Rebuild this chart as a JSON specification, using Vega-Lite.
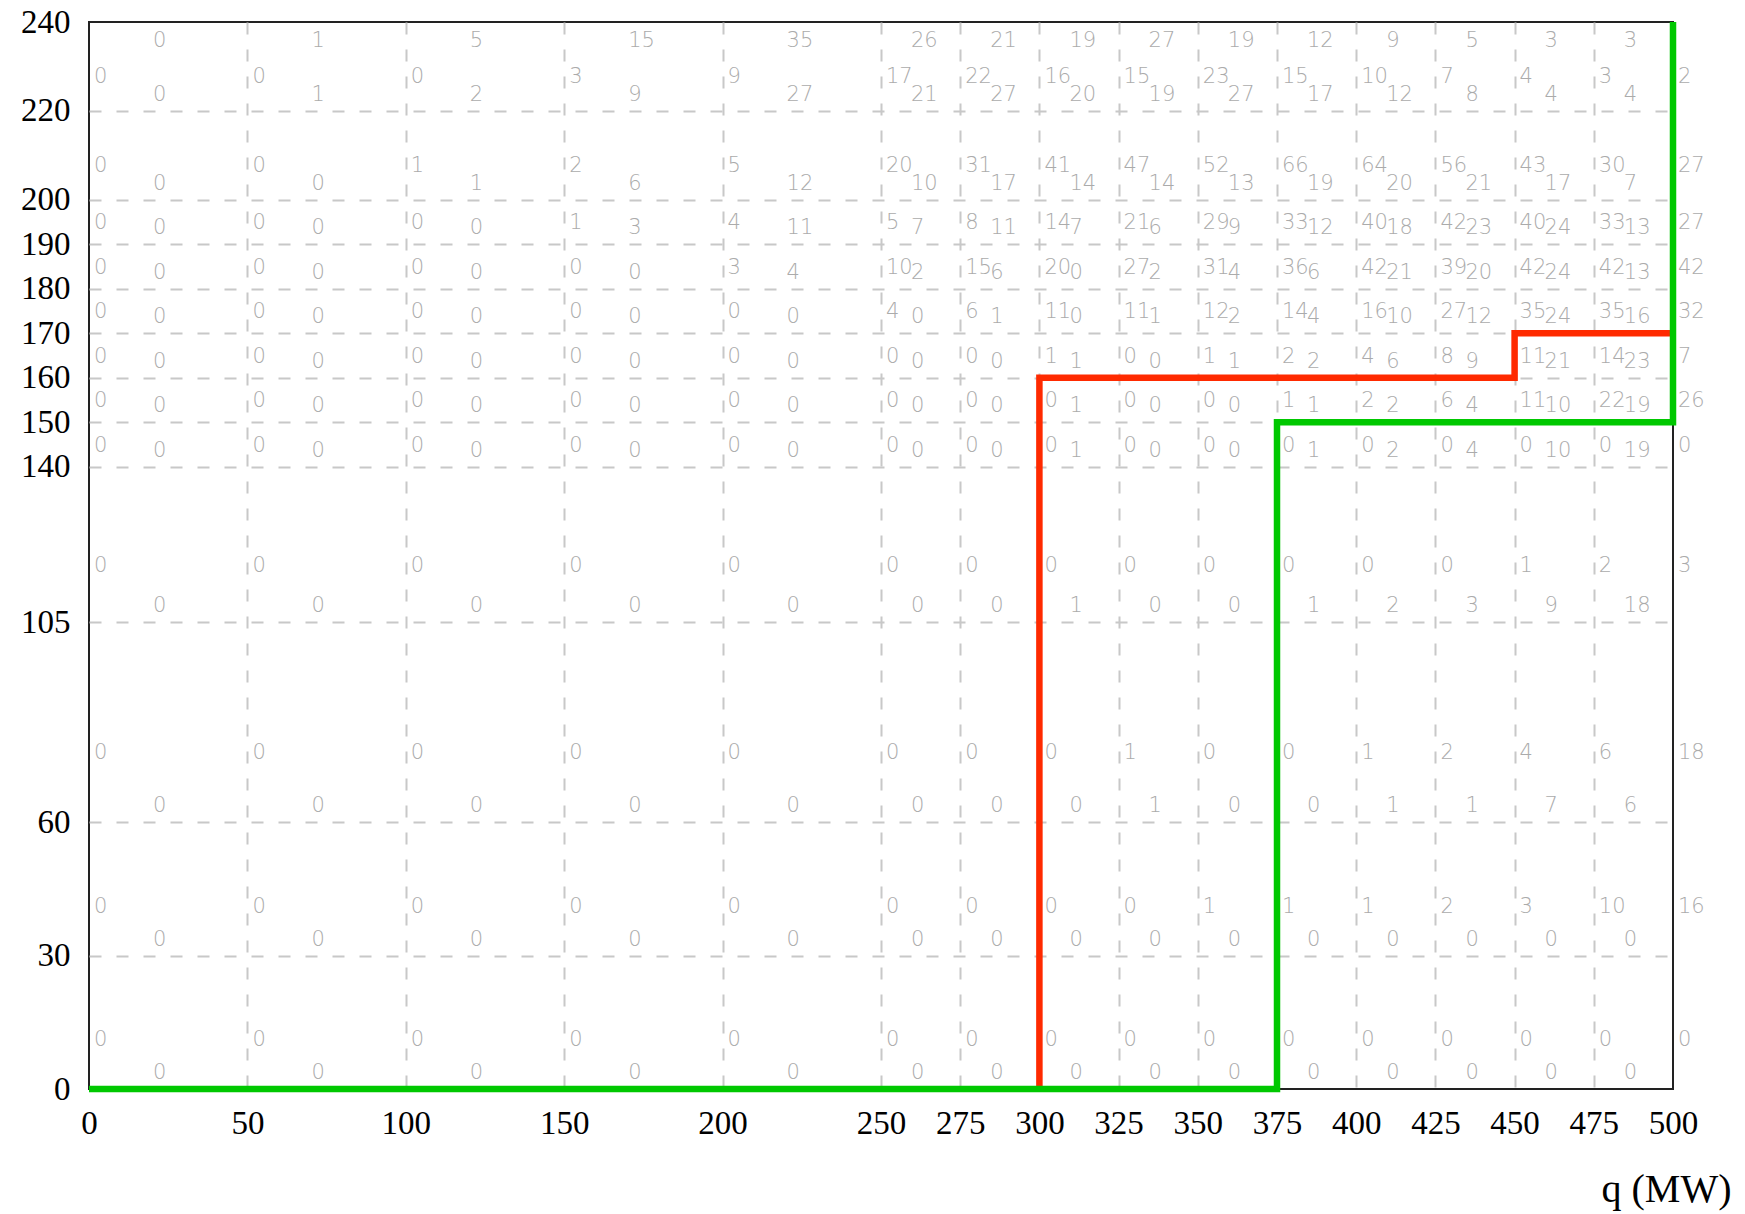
{
  "$schema": "https://vega.github.io/schema/vega-lite/v6.json",
  "width": 1584,
  "height": 1067,
  "autosize": {"type": "none"},
  "padding": {"left": 89, "top": 22, "right": 72, "bottom": 125},
  "background": "white",
  "config": {
    "view": {"stroke": "#222222", "strokeWidth": 2},
    "text": {"font": "DejaVu Sans", "fontSize": 21, "fill": "#ababab", "fontWeight": 200}
  },
  "datasets": {
    "cells": [
      {"q":0,"p":0,"a":0,"b":0},{"q":50,"p":0,"a":0,"b":0},{"q":100,"p":0,"a":0,"b":0},{"q":150,"p":0,"a":0,"b":0},{"q":200,"p":0,"a":0,"b":0},{"q":250,"p":0,"a":0,"b":0},{"q":275,"p":0,"a":0,"b":0},{"q":300,"p":0,"a":0,"b":0},{"q":325,"p":0,"a":0,"b":0},{"q":350,"p":0,"a":0,"b":0},{"q":375,"p":0,"a":0,"b":0},{"q":400,"p":0,"a":0,"b":0},{"q":425,"p":0,"a":0,"b":0},{"q":450,"p":0,"a":0,"b":0},{"q":475,"p":0,"a":0,"b":0},{"q":500,"p":0,"a":0},
      {"q":0,"p":30,"a":0,"b":0},{"q":50,"p":30,"a":0,"b":0},{"q":100,"p":30,"a":0,"b":0},{"q":150,"p":30,"a":0,"b":0},{"q":200,"p":30,"a":0,"b":0},{"q":250,"p":30,"a":0,"b":0},{"q":275,"p":30,"a":0,"b":0},{"q":300,"p":30,"a":0,"b":0},{"q":325,"p":30,"a":0,"b":0},{"q":350,"p":30,"a":1,"b":0},{"q":375,"p":30,"a":1,"b":0},{"q":400,"p":30,"a":1,"b":0},{"q":425,"p":30,"a":2,"b":0},{"q":450,"p":30,"a":3,"b":0},{"q":475,"p":30,"a":10,"b":0},{"q":500,"p":30,"a":16},
      {"q":0,"p":60,"a":0,"b":0},{"q":50,"p":60,"a":0,"b":0},{"q":100,"p":60,"a":0,"b":0},{"q":150,"p":60,"a":0,"b":0},{"q":200,"p":60,"a":0,"b":0},{"q":250,"p":60,"a":0,"b":0},{"q":275,"p":60,"a":0,"b":0},{"q":300,"p":60,"a":0,"b":0},{"q":325,"p":60,"a":1,"b":1},{"q":350,"p":60,"a":0,"b":0},{"q":375,"p":60,"a":0,"b":0},{"q":400,"p":60,"a":1,"b":1},{"q":425,"p":60,"a":2,"b":1},{"q":450,"p":60,"a":4,"b":7},{"q":475,"p":60,"a":6,"b":6},{"q":500,"p":60,"a":18},
      {"q":0,"p":105,"a":0,"b":0},{"q":50,"p":105,"a":0,"b":0},{"q":100,"p":105,"a":0,"b":0},{"q":150,"p":105,"a":0,"b":0},{"q":200,"p":105,"a":0,"b":0},{"q":250,"p":105,"a":0,"b":0},{"q":275,"p":105,"a":0,"b":0},{"q":300,"p":105,"a":0,"b":1},{"q":325,"p":105,"a":0,"b":0},{"q":350,"p":105,"a":0,"b":0},{"q":375,"p":105,"a":0,"b":1},{"q":400,"p":105,"a":0,"b":2},{"q":425,"p":105,"a":0,"b":3},{"q":450,"p":105,"a":1,"b":9},{"q":475,"p":105,"a":2,"b":18},{"q":500,"p":105,"a":3},
      {"q":0,"p":140,"a":0,"b":0},{"q":50,"p":140,"a":0,"b":0},{"q":100,"p":140,"a":0,"b":0},{"q":150,"p":140,"a":0,"b":0},{"q":200,"p":140,"a":0,"b":0},{"q":250,"p":140,"a":0,"b":0},{"q":275,"p":140,"a":0,"b":0},{"q":300,"p":140,"a":0,"b":1},{"q":325,"p":140,"a":0,"b":0},{"q":350,"p":140,"a":0,"b":0},{"q":375,"p":140,"a":0,"b":1},{"q":400,"p":140,"a":0,"b":2},{"q":425,"p":140,"a":0,"b":4},{"q":450,"p":140,"a":0,"b":10},{"q":475,"p":140,"a":0,"b":19},{"q":500,"p":140,"a":0},
      {"q":0,"p":150,"a":0,"b":0},{"q":50,"p":150,"a":0,"b":0},{"q":100,"p":150,"a":0,"b":0},{"q":150,"p":150,"a":0,"b":0},{"q":200,"p":150,"a":0,"b":0},{"q":250,"p":150,"a":0,"b":0},{"q":275,"p":150,"a":0,"b":0},{"q":300,"p":150,"a":0,"b":1},{"q":325,"p":150,"a":0,"b":0},{"q":350,"p":150,"a":0,"b":0},{"q":375,"p":150,"a":1,"b":1},{"q":400,"p":150,"a":2,"b":2},{"q":425,"p":150,"a":6,"b":4},{"q":450,"p":150,"a":11,"b":10},{"q":475,"p":150,"a":22,"b":19},{"q":500,"p":150,"a":26},
      {"q":0,"p":160,"a":0,"b":0},{"q":50,"p":160,"a":0,"b":0},{"q":100,"p":160,"a":0,"b":0},{"q":150,"p":160,"a":0,"b":0},{"q":200,"p":160,"a":0,"b":0},{"q":250,"p":160,"a":0,"b":0},{"q":275,"p":160,"a":0,"b":0},{"q":300,"p":160,"a":1,"b":1},{"q":325,"p":160,"a":0,"b":0},{"q":350,"p":160,"a":1,"b":1},{"q":375,"p":160,"a":2,"b":2},{"q":400,"p":160,"a":4,"b":6},{"q":425,"p":160,"a":8,"b":9},{"q":450,"p":160,"a":11,"b":21},{"q":475,"p":160,"a":14,"b":23},{"q":500,"p":160,"a":7},
      {"q":0,"p":170,"a":0,"b":0},{"q":50,"p":170,"a":0,"b":0},{"q":100,"p":170,"a":0,"b":0},{"q":150,"p":170,"a":0,"b":0},{"q":200,"p":170,"a":0,"b":0},{"q":250,"p":170,"a":4,"b":0},{"q":275,"p":170,"a":6,"b":1},{"q":300,"p":170,"a":11,"b":0},{"q":325,"p":170,"a":11,"b":1},{"q":350,"p":170,"a":12,"b":2},{"q":375,"p":170,"a":14,"b":4},{"q":400,"p":170,"a":16,"b":10},{"q":425,"p":170,"a":27,"b":12},{"q":450,"p":170,"a":35,"b":24},{"q":475,"p":170,"a":35,"b":16},{"q":500,"p":170,"a":32},
      {"q":0,"p":180,"a":0,"b":0},{"q":50,"p":180,"a":0,"b":0},{"q":100,"p":180,"a":0,"b":0},{"q":150,"p":180,"a":0,"b":0},{"q":200,"p":180,"a":3,"b":4},{"q":250,"p":180,"a":10,"b":2},{"q":275,"p":180,"a":15,"b":6},{"q":300,"p":180,"a":20,"b":0},{"q":325,"p":180,"a":27,"b":2},{"q":350,"p":180,"a":31,"b":4},{"q":375,"p":180,"a":36,"b":6},{"q":400,"p":180,"a":42,"b":21},{"q":425,"p":180,"a":39,"b":20},{"q":450,"p":180,"a":42,"b":24},{"q":475,"p":180,"a":42,"b":13},{"q":500,"p":180,"a":42},
      {"q":0,"p":190,"a":0,"b":0},{"q":50,"p":190,"a":0,"b":0},{"q":100,"p":190,"a":0,"b":0},{"q":150,"p":190,"a":1,"b":3},{"q":200,"p":190,"a":4,"b":11},{"q":250,"p":190,"a":5,"b":7},{"q":275,"p":190,"a":8,"b":11},{"q":300,"p":190,"a":14,"b":7},{"q":325,"p":190,"a":21,"b":6},{"q":350,"p":190,"a":29,"b":9},{"q":375,"p":190,"a":33,"b":12},{"q":400,"p":190,"a":40,"b":18},{"q":425,"p":190,"a":42,"b":23},{"q":450,"p":190,"a":40,"b":24},{"q":475,"p":190,"a":33,"b":13},{"q":500,"p":190,"a":27},
      {"q":0,"p":200,"a":0,"b":0},{"q":50,"p":200,"a":0,"b":0},{"q":100,"p":200,"a":1,"b":1},{"q":150,"p":200,"a":2,"b":6},{"q":200,"p":200,"a":5,"b":12},{"q":250,"p":200,"a":20,"b":10},{"q":275,"p":200,"a":31,"b":17},{"q":300,"p":200,"a":41,"b":14},{"q":325,"p":200,"a":47,"b":14},{"q":350,"p":200,"a":52,"b":13},{"q":375,"p":200,"a":66,"b":19},{"q":400,"p":200,"a":64,"b":20},{"q":425,"p":200,"a":56,"b":21},{"q":450,"p":200,"a":43,"b":17},{"q":475,"p":200,"a":30,"b":7},{"q":500,"p":200,"a":27},
      {"q":0,"p":220,"a":0,"b":0},{"q":50,"p":220,"a":0,"b":1},{"q":100,"p":220,"a":0,"b":2},{"q":150,"p":220,"a":3,"b":9},{"q":200,"p":220,"a":9,"b":27},{"q":250,"p":220,"a":17,"b":21},{"q":275,"p":220,"a":22,"b":27},{"q":300,"p":220,"a":16,"b":20},{"q":325,"p":220,"a":15,"b":19},{"q":350,"p":220,"a":23,"b":27},{"q":375,"p":220,"a":15,"b":17},{"q":400,"p":220,"a":10,"b":12},{"q":425,"p":220,"a":7,"b":8},{"q":450,"p":220,"a":4,"b":4},{"q":475,"p":220,"a":3,"b":4},{"q":500,"p":220,"a":2}
    ],
    "top": [
      {"q":0,"p":220,"c":0},{"q":50,"p":220,"c":1},{"q":100,"p":220,"c":5},{"q":150,"p":220,"c":15},{"q":200,"p":220,"c":35},{"q":250,"p":220,"c":26},{"q":275,"p":220,"c":21},{"q":300,"p":220,"c":19},{"q":325,"p":220,"c":27},{"q":350,"p":220,"c":19},{"q":375,"p":220,"c":12},{"q":400,"p":220,"c":9},{"q":425,"p":220,"c":5},{"q":450,"p":220,"c":3},{"q":475,"p":220,"c":3}
    ],
    "steps": [
      {"s":"r","o":1,"q":300,"p":0},{"s":"r","o":2,"q":300,"p":160},{"s":"r","o":3,"q":450,"p":160},{"s":"r","o":4,"q":450,"p":170},{"s":"r","o":5,"q":500,"p":170},
      {"s":"g","o":1,"q":0,"p":0},{"s":"g","o":2,"q":375,"p":0},{"s":"g","o":3,"q":375,"p":150},{"s":"g","o":4,"q":500,"p":150},{"s":"g","o":5,"q":500,"p":240}
    ]
  },
  "encoding": {
    "x": {"field": "q", "type": "quantitative",
      "scale": {"domain": [0, 500], "nice": false, "zero": false},
      "axis": {"values": [0,50,100,150,200,250,275,300,325,350,375,400,425,450,475,500],
        "title": "q (MW)", "titleX": 1642, "titleY": 112, "titleAlign": "right", "titleBaseline": "alphabetic",
        "titleFont": "Liberation Serif", "titleFontSize": 40, "titleFontWeight": "normal", "titleColor": "#000000",
        "labelFont": "Liberation Serif", "labelFontSize": 33, "labelColor": "#000000", "labelPadding": 18,
        "labelFlush": false, "labelOverlap": false, "labelBound": false,
        "ticks": false, "tickSize": 0, "domain": false,
        "grid": true, "gridColor": "#c8c8c8", "gridDash": [12, 15], "gridWidth": 2,
        "gridOpacity": {"condition": {"test": "datum.value === 0 || datum.value === 500", "value": 0}, "value": 1}}},
    "y": {"field": "p", "type": "quantitative",
      "scale": {"domain": [0, 240], "nice": false, "zero": false},
      "axis": {"values": [0,30,60,105,140,150,160,170,180,190,200,220,240],
        "title": null,
        "labelFont": "Liberation Serif", "labelFontSize": 33, "labelColor": "#000000", "labelPadding": 19,
        "labelFlush": false, "labelOverlap": false, "labelBound": false,
        "ticks": false, "tickSize": 0, "domain": false,
        "grid": true, "gridColor": "#c8c8c8", "gridDash": [12, 15], "gridWidth": 2,
        "gridOpacity": {"condition": {"test": "datum.value === 0 || datum.value === 240", "value": 0}, "value": 1}}}
  },
  "layer": [
    {
      "data": {"name": "steps"},
      "transform": [{"filter": "datum.s === 'r'"}],
      "mark": {"type": "line", "stroke": "#ff2a00", "strokeWidth": 6.5, "strokeCap": "butt", "strokeJoin": "miter"},
      "encoding": {"order": {"field": "o", "type": "quantitative"}}
    },
    {
      "data": {"name": "steps"},
      "transform": [{"filter": "datum.s === 'g'"}],
      "mark": {"type": "line", "stroke": "#00c800", "strokeWidth": 6.5, "strokeCap": "butt", "strokeJoin": "miter"},
      "encoding": {"order": {"field": "o", "type": "quantitative"}}
    },
    {
      "data": {"name": "cells"},
      "transform": [{"filter": {"field": "p", "oneOf": [0, 30]}}],
      "mark": {"type": "text", "align": "left", "baseline": "middle", "dx": 5, "dy": -49},
      "encoding": {"text": {"field": "a", "type": "nominal"}}
    },
    {
      "data": {"name": "cells"},
      "transform": [{"filter": {"field": "p", "equal": 60}}],
      "mark": {"type": "text", "align": "left", "baseline": "middle", "dx": 5, "dy": -69},
      "encoding": {"text": {"field": "a", "type": "nominal"}}
    },
    {
      "data": {"name": "cells"},
      "transform": [{"filter": {"field": "p", "equal": 105}}],
      "mark": {"type": "text", "align": "left", "baseline": "middle", "dx": 5, "dy": -56},
      "encoding": {"text": {"field": "a", "type": "nominal"}}
    },
    {
      "data": {"name": "cells"},
      "transform": [{"filter": {"field": "p", "oneOf": [140, 150, 160, 170, 180, 190]}}],
      "mark": {"type": "text", "align": "left", "baseline": "middle", "dx": 5, "dy": -21},
      "encoding": {"text": {"field": "a", "type": "nominal"}}
    },
    {
      "data": {"name": "cells"},
      "transform": [{"filter": {"field": "p", "oneOf": [200, 220]}}],
      "mark": {"type": "text", "align": "left", "baseline": "middle", "dx": 5, "dy": -34},
      "encoding": {"text": {"field": "a", "type": "nominal"}}
    },
    {
      "data": {"name": "cells"},
      "transform": [{"filter": "datum.q < 250"}],
      "mark": {"type": "text", "align": "left", "baseline": "middle", "dx": 64, "dy": -16},
      "encoding": {"text": {"field": "b", "type": "nominal"}}
    },
    {
      "data": {"name": "cells"},
      "transform": [{"filter": "datum.q >= 250 && datum.q < 500"}],
      "mark": {"type": "text", "align": "left", "baseline": "middle", "dx": 30, "dy": -16},
      "encoding": {"text": {"field": "b", "type": "nominal"}}
    },
    {
      "data": {"name": "top"},
      "transform": [{"filter": "datum.q < 250"}],
      "mark": {"type": "text", "align": "left", "baseline": "middle", "dx": 64, "dy": -70},
      "encoding": {"text": {"field": "c", "type": "nominal"}}
    },
    {
      "data": {"name": "top"},
      "transform": [{"filter": "datum.q >= 250"}],
      "mark": {"type": "text", "align": "left", "baseline": "middle", "dx": 30, "dy": -70},
      "encoding": {"text": {"field": "c", "type": "nominal"}}
    }
  ]
}
